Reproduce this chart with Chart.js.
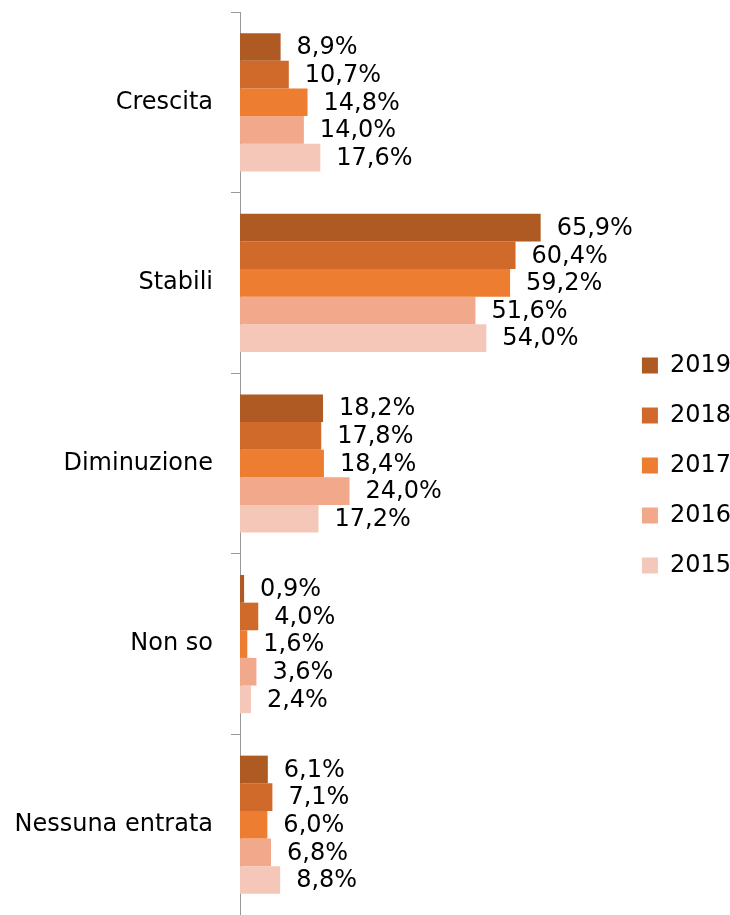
<!DOCTYPE html>
<html lang="it">
<head>
  <meta charset="UTF-8">
  <title>Entrate</title>
  <script src="https://cdn.jsdelivr.net/npm/chart.js"></script>
  <style>
    body { margin: 0; background: #fff; }
    #wrap { width: 730px; height: 915px; position: relative; }
  </style>
</head>
<body>
  <div id="wrap">
    <canvas id="chart"></canvas>
  </div>

  <script>
    // Values (percent)
    const categories = ['Crescita', 'Stabili', 'Diminuzione', 'Non so', 'Nessuna entrata'];
    const years = ['2019', '2018', '2017', '2016', '2015'];
    const y2019 = [8.9, 65.9, 18.2, 0.9, 6.1];
    const y2018 = [10.7, 60.4, 17.8, 4.0, 7.1];
    const y2017 = [14.8, 59.2, 18.4, 1.6, 6.0];
    const y2016 = [14.0, 51.6, 24.0, 3.6, 6.8];
    const y2015 = [17.6, 54.0, 17.2, 2.4, 8.8];
    const colors = ['#AE5A22', '#D06A2B', '#ED7D31', '#F1A88B', '#F5C7B8'];

    const series = [y2019, y2018, y2017, y2016, y2015];
    const font = 'DejaVu Sans';

    // draws the value after each bar, like "8,9%"
    const valueLabels = {
      id: 'valueLabels',
      afterDatasetsDraw(chart) {
        const ctx = chart.ctx;
        ctx.save();
        ctx.font = '24px "' + font + '"';
        ctx.fillStyle = '#000';
        ctx.textBaseline = 'middle';
        ctx.textAlign = 'left';
        chart.data.datasets.forEach((ds, i) => {
          chart.getDatasetMeta(i).data.forEach((bar, j) => {
            const txt = ds.data[j].toFixed(1).replace('.', ',') + '%';
            ctx.fillText(txt, bar.x + 16, bar.y + 1);
          });
        });
        ctx.restore();
      }
    };

    new Chart(document.getElementById('chart'), {
      type: 'bar',
      data: {
        labels: categories,
        datasets: series.map((d, i) => ({
          label: years[i],
          data: d,
          backgroundColor: colors[i],
          borderWidth: 0,
          barPercentage: 1,
          categoryPercentage: 0.765
        }))
      },
      options: {
        indexAxis: 'y',
        responsive: true,
        maintainAspectRatio: false,
        animation: false,
        layout: { padding: { left: 4, top: 12, right: -11, bottom: -4 } },
        scales: {
          x: { display: false, min: 0, max: 82.4 },
          y: {
            afterFit(scale) {
              scale.width = 236;
              scale.paddingTop = 0;
              scale.paddingBottom = 0;
            },
            grid: {
              offset: true,
              drawOnChartArea: false,
              drawTicks: true,
              tickLength: 9,
              color: '#999'
            },
            border: { display: true, color: '#999', width: 1 },
            ticks: {
              color: '#000',
              padding: 18,
              font: { family: font, size: 24 }
            }
          }
        },
        plugins: {
          legend: {
            position: 'right',
            align: 'center',
            labels: {
              boxWidth: 16,
              boxHeight: 16,
              padding: 26,
              color: '#000',
              font: { family: font, size: 24 }
            }
          },
          tooltip: { enabled: false }
        }
      },
      plugins: [valueLabels]
    });
  </script>
</body>
</html>
